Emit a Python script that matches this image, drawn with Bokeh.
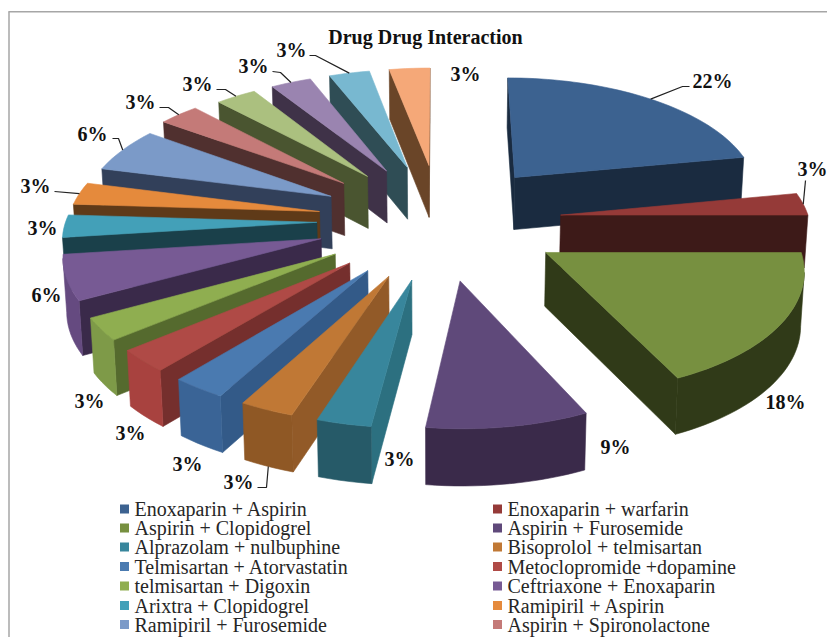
import numpy as np
from bokeh.plotting import figure
from bokeh.models import Range1d, ColumnDataSource
from bokeh.core.properties import value
from bokeh.embed import file_html
from bokeh.resources import INLINE

title = "Drug Drug Interaction"
values = [22, 3, 18, 9, 3, 3, 3, 3, 3, 6, 3, 3, 6, 3, 3, 3, 3, 3]
legend_names = [
    "Enoxaparin + Aspirin", "Enoxaparin + warfarin",
    "Aspirin + Clopidogrel", "Aspirin + Furosemide",
    "Alprazolam + nulbuphine", "Bisoprolol + telmisartan",
    "Telmisartan + Atorvastatin", "Metoclopromide +dopamine",
    "telmisartan + Digoxin", "Ceftriaxone + Enoxaparin",
    "Arixtra + Clopidogrel", "Ramipiril + Aspirin",
    "Ramipiril + Furosemide", "Aspirin + Spironolactone",
]
top_colors = ["#3c6290", "#953a38", "#779040", "#5f497a", "#38869c", "#c07835",
              "#4a7ab0", "#af4a46", "#8fae50", "#775a94", "#43a0b8", "#e58a3c",
              "#7b9ac8", "#c47a78", "#abc07f", "#9a84b0", "#78b8d0", "#f5a878"]
radial_colors = ["#1a2b40", "#3d1a18", "#303a18", "#3a2a4a", "#2c7080", "#925a28",
                 "#335a88", "#752f2d", "#556a2e", "#3a2a4a", "#1a404a", "#5f3a18",
                 "#32405a", "#50302f", "#4a5530", "#3f3248", "#2f4d55", "#6a4528"]
rim_colors = ["#1a2b40", "#3d1a18", "#303a18", "#3a2a4a", "#265a68", "#8f5825",
              "#3a6496", "#a8423f", "#7e9a48", "#654a80", "#1a404a", "#5f3a18",
              "#32405a", "#50302f", "#4a5530", "#3f3248", "#2f4d55", "#6a4528"]

# Projection of the exploded 3D pie (layout parameters)
CX, CY, A, K, P, EXPLODE, H, Q = 439.5, 220.0, 251.0, 0.472, 0.105, 0.49, 53.0, 0.01
RIGHT_SIDE_SCALE = 0.99
SLICE_NUDGE_X = {13: -7.0}

# Percent label centres, with optional leader knees
label_pos = [(712, 80), (812, 168), (785, 401), (615, 446), (399, 458), (238, 481),
             (187, 463), (130, 432), (89, 400), (46, 294), (42, 227), (35, 185),
             (92, 133), (140, 101), (197, 83), (253, 65), (291, 49), (465, 73)]
leader_knees = {0: [(682, 86), (689, 86)], 1: [(805, 180)], 5: [(266, 487), (257, 487)],
                11: [(54, 191)], 12: [(118, 138), (112, 138)], 13: [(168, 107), (159, 107)],
                14: [(225, 89), (216, 89)], 15: [(280, 72), (272, 71)], 16: [(315, 55), (309, 55)]}
leaders_from_lower_rim = [5]


def world(theta, mid, radius=1.0):
    X = EXPLODE * np.sin(mid) + radius * np.sin(theta)
    Y = -EXPLODE * np.cos(mid) - radius * np.cos(theta)
    return X, Y


def project(X, Y, nudge=0.0):
    s = 1.0 / (1.0 - P * Y)
    dx = A * X * s
    dx = np.where(dx > 0, dx * RIGHT_SIDE_SCALE, dx)
    return CX + dx + nudge, CY + A * K * Y * s, s


def lower(x, y, s):
    return CX + (x - CX) * (1 - Q), y + H * s ** 0.45


fractions = np.array(values, dtype=float) / sum(values)
edges = np.concatenate([[0], np.cumsum(fractions)]) * 2 * np.pi

slices = []
for i in range(len(values)):
    a0, a1 = edges[i], edges[i + 1]
    mid = (a0 + a1) / 2
    nudge = SLICE_NUDGE_X.get(i, 0.0)
    th = np.linspace(a0, a1, max(3, int((a1 - a0) / 0.03)))
    rx, ry, rs = project(*world(th, mid), nudge)
    ax, ay, az = project(*world(np.array([mid]), mid, 0.0), nudge)
    slices.append(dict(i=i, mid=mid, nudge=nudge, rx=rx, ry=ry, rs=rs, ax=ax[0], ay=ay[0], az=az[0],
                       depth=-np.cos(mid)))

xs, ys, fills, lines = [], [], [], []


def add(px, py, color):
    xs.append(list(map(float, px)))
    ys.append(list(map(float, py)))
    fills.append(color)
    lines.append(color)


for sl in sorted(slices, key=lambda d: d["depth"]):
    i, rx, ry, rs = sl["i"], sl["rx"], sl["ry"], sl["rs"]
    ax, ay, az = sl["ax"], sl["ay"], sl["az"]
    for (p0, p1) in (((ax, ay, az), (rx[0], ry[0], rs[0])), ((rx[-1], ry[-1], rs[-1]), (ax, ay, az))):
        if p1[0] < p0[0]:
            b0 = lower(*p0)
            b1 = lower(*p1)
            add([p0[0], p1[0], b1[0], b0[0]], [p0[1], p1[1], b1[1], b0[1]], radial_colors[i])
    vis = np.where(np.diff(rx) < 0)[0]
    if len(vis):
        idx = np.arange(vis[0], vis[-1] + 2)
        bx, by = lower(rx[idx], ry[idx], rs[idx])
        add(np.concatenate([rx[idx], bx[::-1]]), np.concatenate([ry[idx], by[::-1]]), rim_colors[i])
    add(np.concatenate([[ax], rx]), np.concatenate([[ay], ry]), top_colors[i])

p = figure(width=827, height=637, output_backend="svg", toolbar_location=None,
           x_range=Range1d(0, 827), y_range=Range1d(637, 0),
           x_axis_type=None, y_axis_type=None, min_border=0, outline_line_color=None)
p.grid.visible = False

# chart frame
p.line([8.5, 8.5], [11, 637], line_color="#a6a6a6", line_width=1.5)
p.line([8, 827], [11.2, 11.2], line_color="#a6a6a6", line_width=1.5)

p.patches("xs", "ys", source=ColumnDataSource(dict(xs=xs, ys=ys, f=fills, l=lines)),
          fill_color="f", line_color="l", line_width=0.6)

# leader lines start on the rim at each slice's mid angle
for i, knee in leader_knees.items():
    mid = slices[i]["mid"]
    ox, oy, os_ = project(*world(mid, mid), slices[i]["nudge"])
    if i in leaders_from_lower_rim:
        ox, oy = lower(ox, oy, os_)
    p.line([float(ox)] + [k[0] for k in knee], [float(oy)] + [k[1] for k in knee],
           line_color="#222222", line_width=1.2)

p.text([q[0] for q in label_pos], [q[1] for q in label_pos], text=[f"{v}%" for v in values],
       text_font=value("Liberation Serif"), text_font_style="bold", text_font_size="20px",
       text_align="center", text_baseline="middle", text_color="#111111")

p.text([425], [36], text=[title], text_font=value("Liberation Serif"), text_font_style="bold",
       text_font_size="20px", text_align="center", text_baseline="middle", text_color="#111111")

# legend
row_y = [508.5, 527.5, 546.5, 566, 585.5, 605, 624]
col_x = [124, 497]
lx, ly, lc, lt = [], [], [], []
for n, name in enumerate(legend_names):
    lx.append(col_x[n % 2])
    ly.append(row_y[n // 2])
    lc.append(top_colors[n])
    lt.append(name)
p.scatter(lx, ly, marker="square", size=9, fill_color=lc, line_color=lc, line_width=0)
p.text([x + 10 for x in lx], ly, text=lt, text_font=value("Liberation Serif"), text_font_size="20px",
       text_align="left", text_baseline="middle", text_color="#262626")

open("out.html", "w").write(file_html(p, INLINE))
